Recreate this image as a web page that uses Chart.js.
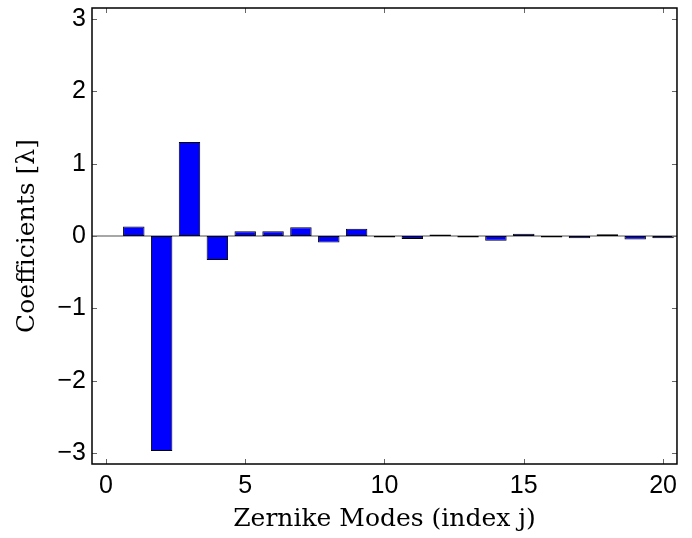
<!DOCTYPE html>
<html>
<head>
<meta charset="utf-8">
<script src="https://cdn.jsdelivr.net/npm/chart.js@4"></script>
<style>
  html, body { margin: 0; padding: 0; background: #fff; }
  #wrap { width: 692px; height: 538px; }
</style>
</head>
<body>
<div id="wrap"><canvas id="chartBar"></canvas></div>
<script>
var ctx = document.getElementById('chartBar').getContext('2d');

// Zernike mode index j and fitted coefficients (in waves)
const modes = [1, 2, 3, 4, 5, 6, 7, 8, 9, 10, 11, 12, 13, 14, 15, 16, 17, 18, 19, 20];
const coefficients = [0.13, -2.97, 1.30, -0.33, 0.065, 0.065, 0.12, -0.09, 0.10, -0.02,
                      -0.04, 0.02, -0.02, -0.065, 0.03, -0.02, -0.03, 0.025, -0.05, -0.03];
const xTicks = [0, 5, 10, 15, 20];
const yTicks = [-3, -2, -1, 0, 1, 2, 3];

const points = modes.map((j, i) => ({ x: j, y: coefficients[i] }));

const fmt = v => (v < 0 ? '\u2212' + Math.abs(v) : String(v));

// matlab style box, inward ticks and gray baseline
const matlabAxes = {
    id: 'matlabAxes',
    beforeDatasetsDraw(chart) {
        const { ctx, chartArea: a, scales } = chart;
        const y0 = scales.y.getPixelForValue(0);
        ctx.save();
        ctx.strokeStyle = '#8a8a8a';
        ctx.lineWidth = 1.5;
        ctx.beginPath();
        ctx.moveTo(a.left, y0);
        ctx.lineTo(a.right, y0);
        ctx.stroke();
        ctx.restore();
    },
    afterDraw(chart) {
        const { ctx, chartArea: a, scales } = chart;
        ctx.save();
        ctx.strokeStyle = '#666';
        ctx.lineWidth = 1;
        ctx.beginPath();
        yTicks.forEach(v => {
            const p = Math.round(scales.y.getPixelForValue(v)) + 0.5;
            ctx.moveTo(a.left, p); ctx.lineTo(a.left + 5, p);
            ctx.moveTo(a.right, p); ctx.lineTo(a.right - 5, p);
        });
        xTicks.forEach(v => {
            const p = Math.round(scales.x.getPixelForValue(v)) + 0.5;
            ctx.moveTo(p, a.bottom); ctx.lineTo(p, a.bottom - 5);
            ctx.moveTo(p, a.top); ctx.lineTo(p, a.top + 5);
        });
        ctx.stroke();
        ctx.strokeStyle = '#000';
        ctx.lineWidth = 1.5;
        ctx.strokeRect(a.left, a.top, a.right - a.left, a.bottom - a.top);
        ctx.restore();
    }
};

var chart = new Chart(ctx, {
    type: 'bar',
    data: {
        datasets: [{
            label: 'Coefficients',
            data: points,
            backgroundColor: '#0000ff',
            borderColor: '#000',
            borderWidth: 1,
            borderSkipped: false,
            barPercentage: 0.77,
            categoryPercentage: 1
        }]
    },
    options: {
        responsive: true,
        maintainAspectRatio: false,
        animation: false,
        layout: { padding: { top: 8, right: 2, left: 0, bottom: 0 } },
        plugins: { legend: { display: false }, tooltip: { enabled: false } },
        scales: {
            x: {
                type: 'linear',
                offset: false,
                min: -0.5,
                max: 20.5,
                afterBuildTicks: s => { s.ticks = xTicks.map(v => ({ value: v })); },
                afterFit: s => { s.height = 74; },
                grid: { display: false, drawTicks: false, offset: false },
                border: { display: false },
                ticks: {
                    color: '#000',
                    padding: 15,
                    maxRotation: 0,
                    font: { family: 'Liberation Sans', size: 25, lineHeight: 0.6 },
                    callback: v => fmt(v)
                },
                title: {
                    display: true,
                    text: 'Zernike Modes (index j)',
                    color: '#000',
                    padding: { top: 0, bottom: 4 },
                    font: { family: 'DejaVu Serif', size: 25 }
                }
            },
            y: {
                min: -3.15,
                max: 3.15,
                afterBuildTicks: s => { s.ticks = yTicks.map(v => ({ value: v })); },
                afterFit: s => { s.width = 92; },
                grid: { display: false, drawTicks: false },
                border: { display: false },
                ticks: {
                    color: '#000',
                    padding: 6,
                    font: { family: 'Liberation Sans', size: 25, lineHeight: 0.1 },
                    callback: v => fmt(v)
                },
                title: {
                    display: true,
                    text: 'Coefficients [\u03bb]',
                    color: '#000',
                    padding: { top: 12, bottom: 0 },
                    font: { family: 'DejaVu Serif', size: 25 }
                }
            }
        }
    },
    plugins: [matlabAxes]
});
</script>
</body>
</html>
